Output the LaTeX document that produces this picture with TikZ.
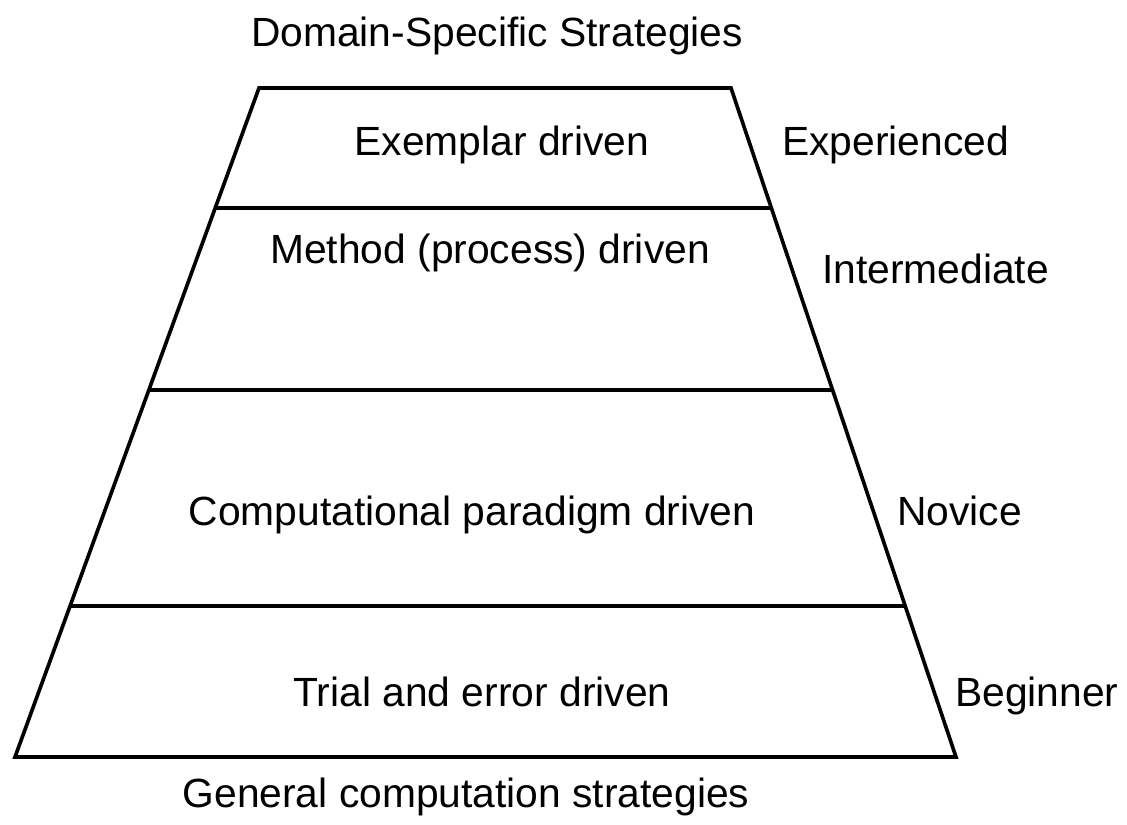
\documentclass[tikz,border=0pt]{standalone}
\usepackage{fontspec}
\setmainfont{Liberation Sans}
\usepackage{tikz}
\tikzset{layer/.style = {font = \fontsize{29}{35}\selectfont, anchor = base, inner sep = 0pt}}
\tikzset{stage/.style = {font = \fontsize{29}{35}\selectfont, anchor = base west, inner sep = 0pt}}
\tikzset{border/.style = {draw, line width = 2.6pt, line join = miter}}

\begin{document}
\begin{tikzpicture}[x = 0.025cm, y = -0.025cm]
				\useasboundingbox (0, 0) rectangle (1127, 824);

				\coordinate (tl) at (259, 88);
				\coordinate (tr) at (731, 88);
				\coordinate (br) at (956, 757);
				\coordinate (bl) at (15, 757);

				\coordinate (l1) at (215, 208);
				\coordinate (r1) at (771, 208);
				\coordinate (l2) at (149, 390);
				\coordinate (r2) at (833, 390);
				\coordinate (l3) at (70, 606);
				\coordinate (r3) at (905, 606);

				\draw[border] (tl) -- (tr) -- (br) -- (bl) -- cycle;
				\draw[border] (l1) -- (r1);
				\draw[border] (l2) -- (r2);
				\draw[border] (l3) -- (r3);

				\node[layer] (top) at (497, 46) {Domain-Specific Strategies};
				\node[layer] (exemplar) at (502, 155) {Exemplar driven};
				\node[layer] (method) at (490, 263) {Method (process) driven};
				\node[layer] (paradigm) at (472, 525) {Computational paradigm driven};
				\node[layer] (trial) at (482, 706) {Trial and error driven};
				\node[layer] (bottom) at (466, 807) {General computation strategies};

				\node[stage] (experienced) at (782, 155) {Experienced};
				\node[stage] (intermediate) at (822, 283) {Intermediate};
				\node[stage] (novice) at (897, 525) {Novice};
				\node[stage] (beginner) at (955, 706) {Beginner};
			\end{tikzpicture}
\end{document}
